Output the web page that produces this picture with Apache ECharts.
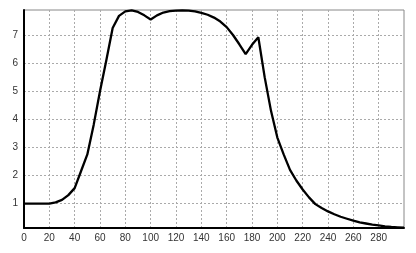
<!DOCTYPE html>
<html><head><meta charset="utf-8">
<script src="https://cdn.jsdelivr.net/npm/echarts@6/dist/echarts.min.js"></script>
<style>html,body{margin:0;padding:0;background:#fff}#c{width:416px;height:253px}</style>
</head><body><div id="c"></div>
<script>
const xValues = [0,5,10,15,20,25,30,35,40,45,50,55,60,65,70,75,80,85,90,95,100,105,110,115,120,125,130,135,140,145,150,155,160,165,170,175,180,185,190,195,200,205,210,215,220,225,230,235,240,245,250,255,260,265,270,275,280,285,290,295,300];
const yValues = [1.0,1.0,1.0,1.0,1.0,1.04,1.13,1.3,1.55,2.15,2.75,3.8,5.0,6.1,7.25,7.68,7.84,7.88,7.82,7.7,7.55,7.7,7.8,7.85,7.87,7.88,7.87,7.84,7.79,7.72,7.62,7.48,7.28,7.0,6.67,6.32,6.65,6.92,5.5,4.3,3.35,2.75,2.2,1.82,1.5,1.22,0.98,0.84,0.72,0.62,0.53,0.46,0.39,0.33,0.29,0.25,0.22,0.19,0.17,0.155,0.14];
const xTickLabels = [0,20,40,60,80,100,120,140,160,180,200,220,240,260,280];
const yTickLabels = [1,2,3,4,5,6,7];

const chart = echarts.init(document.getElementById('c'), null, {renderer:'canvas'});
const lbl = {fontFamily:'Liberation Sans, Arial, sans-serif', fontSize:10, color:'#333'};
chart.setOption({
  animation:false,
  grid:{left:24, top:10, right:12, bottom:25, show:true, borderColor:'#888', borderWidth:1},
  xAxis:{type:'value', min:0, max:300,
    axisLine:{lineStyle:{color:'#000', width:2}},
    axisTick:{show:false, customValues:xTickLabels},
    axisLabel:Object.assign({margin:5, customValues:xTickLabels}, lbl),
    splitLine:{show:true, lineStyle:{color:'#aaa', type:[2,2], width:1}}},
  yAxis:{type:'value', min:0.13, max:7.89,
    axisLine:{show:true, lineStyle:{color:'#000', width:2}},
    axisTick:{show:false, customValues:yTickLabels},
    axisLabel:Object.assign({margin:6, customValues:yTickLabels}, lbl),
    splitLine:{show:true, lineStyle:{color:'#aaa', type:[2,2], width:1}}},
  series:[{type:'line', data:xValues.map((x,i)=>[x,yValues[i]]), showSymbol:false, smooth:false,
    lineStyle:{color:'#000', width:2.3}, z:5}]
});
</script></body></html>
